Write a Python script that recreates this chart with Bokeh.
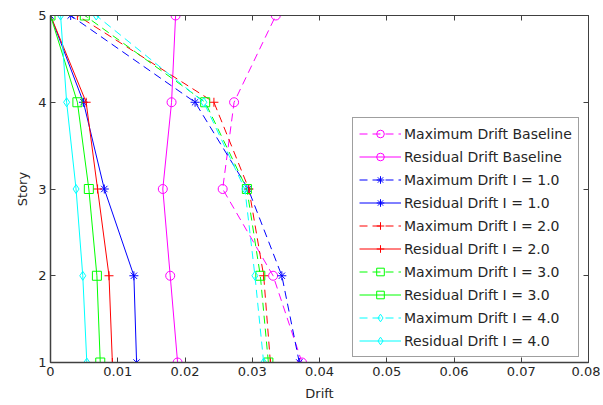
from bokeh.plotting import figure
from bokeh.models import Legend, LegendItem, LinearAxis, FixedTicker, Range1d, CustomJSTickFormatter
from bokeh.embed import file_html
from bokeh.resources import INLINE

story = [1, 2, 3, 4, 5]
max_base = [0.0374, 0.0331, 0.0256, 0.0273, 0.0335]
res_base = [0.0189, 0.0178, 0.0167, 0.0180, 0.0186]
max_i1 = [0.0370, 0.0344, 0.0294, 0.0215, 0.0030]
res_i1 = [0.0128, 0.0124, 0.0080, 0.0049, 0.0]
max_i2 = [0.0327, 0.0317, 0.0295, 0.0243, 0.0040]
res_i2 = [0.0092, 0.0087, 0.0070, 0.0053, 0.0]
max_i3 = [0.0324, 0.0312, 0.0292, 0.0230, 0.0051]
res_i3 = [0.0074, 0.0069, 0.0057, 0.0040, 0.0]
max_i4 = [0.0317, 0.0304, 0.0289, 0.0228, 0.0068]
res_i4 = [0.0054, 0.0048, 0.0038, 0.0024, 0.0015]

x_ticks = [0, 0.01, 0.02, 0.03, 0.04, 0.05, 0.06, 0.07, 0.08]
x_tick_labels = ["0", "0.01", "0.02", "0.03", "0.04", "0.05", "0.06", "0.07", "0.08"]
y_ticks = [1, 2, 3, 4, 5]

series = [
    ("Maximum Drift Baseline", max_base, "#ff00ff", "circle", "8 5"),
    ("Residual Drift Baseline", res_base, "#ff00ff", "circle", "solid"),
    ("Maximum Drift I = 1.0", max_i1, "#0000ff", "asterisk", "8 5"),
    ("Residual Drift I = 1.0", res_i1, "#0000ff", "asterisk", "solid"),
    ("Maximum Drift I = 2.0", max_i2, "#ff0000", "cross", "8 5"),
    ("Residual Drift I = 2.0", res_i2, "#ff0000", "cross", "solid"),
    ("Maximum Drift I = 3.0", max_i3, "#00ff00", "square", "8 5"),
    ("Residual Drift I = 3.0", res_i3, "#00ff00", "square", "solid"),
    ("Maximum Drift I = 4.0", max_i4, "#00ffff", "diamond", "8 5"),
    ("Residual Drift I = 4.0", res_i4, "#00ffff", "diamond", "solid"),
]

FONT = "DejaVu Sans"
AX = "#404040"
TXT = "#262626"

p = figure(width=600, height=403, x_range=Range1d(0, 0.08), y_range=Range1d(1, 5),
           output_backend="svg", toolbar_location=None,
           min_border_left=50, min_border_right=12, min_border_top=15, min_border_bottom=40,
           x_axis_label="Drift", y_axis_label="Story")
p.grid.visible = False
p.outline_line_color = AX
p.outline_line_width = 1
p.background_fill_color = "white"
p.border_fill_color = "white"

for ax in (p.xaxis[0], p.yaxis[0]):
    ax.axis_line_color = AX
    ax.axis_line_width = 1.5
    ax.major_tick_line_color = AX
    ax.major_tick_in = 5
    ax.major_tick_out = 0
    ax.minor_tick_line_color = None
    ax.major_label_text_font = FONT
    ax.major_label_text_font_size = "13px"
    ax.major_label_text_color = TXT
    ax.axis_label_text_font = FONT
    ax.axis_label_text_font_size = "13px"
    ax.axis_label_text_font_style = "normal"
    ax.axis_label_text_color = TXT
    ax.major_label_standoff = 4
    ax.axis_label_standoff = 5

p.xaxis[0].axis_label_standoff = 7
p.xaxis[0].ticker = FixedTicker(ticks=x_ticks)
p.xaxis[0].major_label_overrides = {t: l for t, l in zip(x_ticks, x_tick_labels)}
p.yaxis[0].ticker = FixedTicker(ticks=y_ticks)

top_ax = LinearAxis(ticker=FixedTicker(ticks=x_ticks), formatter=CustomJSTickFormatter(code="return ''"),
                    major_tick_in=5, major_tick_out=0, minor_tick_line_color=None,
                    major_tick_line_color=AX, axis_line_color=AX, major_label_standoff=0)
right_ax = LinearAxis(ticker=FixedTicker(ticks=y_ticks), formatter=CustomJSTickFormatter(code="return ''"),
                      major_tick_in=5, major_tick_out=0, minor_tick_line_color=None,
                      major_tick_line_color=AX, axis_line_color=AX, major_label_standoff=0)
p.add_layout(top_ax, "above")
p.add_layout(right_ax, "right")

items = []
for label, xs, color, marker, dash in series:
    r1 = p.line(xs, story, line_color=color, line_width=1, line_dash=dash)
    r2 = p.scatter(xs, story, marker=marker, size=9, line_color=color, fill_color=None, line_width=1)
    items.append(LegendItem(label=label, renderers=[r1, r2]))

legend = Legend(items=items, location=(302, 5))
legend.label_text_font = FONT
legend.label_text_font_size = "14px"
legend.label_text_color = TXT
legend.border_line_color = AX
legend.border_line_width = 1
legend.background_fill_alpha = 1
legend.padding = 6
legend.spacing = 4
legend.label_height = 19
legend.glyph_height = 19
legend.glyph_width = 42
legend.label_standoff = 3
legend.margin = 0
p.add_layout(legend, "center")

open("out.html", "w").write(file_html(p, INLINE))
